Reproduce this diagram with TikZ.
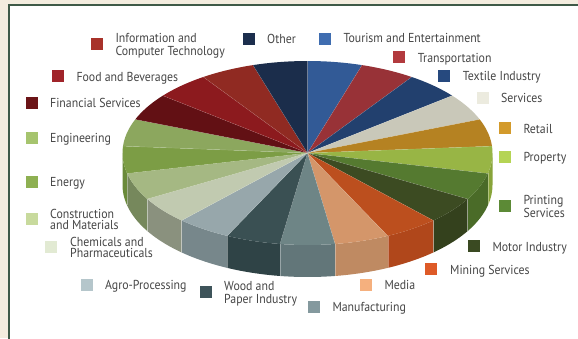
\documentclass[tikz,border=0pt]{standalone}
\usepackage{fontspec}
\setmainfont{PT Sans}[FakeStretch=0.91]
\definecolor{bgcream}{HTML}{F4EDDF}
\definecolor{framegreen}{HTML}{3F5A48}
\definecolor{textgray}{HTML}{464646}
% top faces
\definecolor{cTourism}{HTML}{325A96}
\definecolor{cTransport}{HTML}{983237}
\definecolor{cTextile}{HTML}{22406E}
\definecolor{cServices}{HTML}{C9C8B9}
\definecolor{cRetail}{HTML}{B58222}
\definecolor{cProperty}{HTML}{98B545}
\definecolor{cPrinting}{HTML}{557A30}
\definecolor{cMotor}{HTML}{3C4B22}
\definecolor{cMining}{HTML}{BC4F1E}
\definecolor{cMedia}{HTML}{D4966A}
\definecolor{cManuf}{HTML}{6E8586}
\definecolor{cWood}{HTML}{3A5053}
\definecolor{cAgro}{HTML}{97A7AB}
\definecolor{cChem}{HTML}{C1CAB0}
\definecolor{cConstr}{HTML}{A5B883}
\definecolor{cEnergy}{HTML}{7C9D45}
\definecolor{cEngin}{HTML}{8CA75E}
\definecolor{cFin}{HTML}{621014}
\definecolor{cFood}{HTML}{8C1A1E}
\definecolor{cICT}{HTML}{902A22}
\definecolor{cOther}{HTML}{1B2D4B}
% side faces
\definecolor{sProperty}{HTML}{88A43A}
\definecolor{sPrinting}{HTML}{4A6B28}
\definecolor{sMotor}{HTML}{34411D}
\definecolor{sMining}{HTML}{B0471B}
\definecolor{sMedia}{HTML}{BF8A62}
\definecolor{sManuf}{HTML}{627679}
\definecolor{sWood}{HTML}{2F4346}
\definecolor{sAgro}{HTML}{77878B}
\definecolor{sChem}{HTML}{8A917E}
\definecolor{sConstr}{HTML}{76885C}
\definecolor{sEnergy}{HTML}{6A8A3A}
% legend squares
\definecolor{lICT}{HTML}{A8322A}
\definecolor{lOther}{HTML}{1C2E4D}
\definecolor{lTourism}{HTML}{3F6DB0}
\definecolor{lTransport}{HTML}{B23A3E}
\definecolor{lTextile}{HTML}{26497E}
\definecolor{lServices}{HTML}{ECEBDF}
\definecolor{lRetail}{HTML}{D39A2B}
\definecolor{lProperty}{HTML}{B5D454}
\definecolor{lPrinting}{HTML}{5C8A36}
\definecolor{lMotor}{HTML}{3A4A22}
\definecolor{lMining}{HTML}{DE5A27}
\definecolor{lMedia}{HTML}{F5B07E}
\definecolor{lManuf}{HTML}{84999E}
\definecolor{lWood}{HTML}{3E545A}
\definecolor{lAgro}{HTML}{B5C6CB}
\definecolor{lChem}{HTML}{E2EAD3}
\definecolor{lConstr}{HTML}{C8DA9D}
\definecolor{lEnergy}{HTML}{8EB052}
\definecolor{lEngin}{HTML}{A6C46E}
\definecolor{lFin}{HTML}{6B1417}
\definecolor{lFood}{HTML}{A0242A}
\begin{document}
\begin{tikzpicture}[x=1pt,y=-1pt,
  legsq/.style={fill=#1, minimum size=12pt, inner sep=0pt, draw=none},
  leg/.style={anchor=base west, inner sep=0pt, text=textgray, align=left,
    font=\fontsize{13}{#1}\selectfont},
  leg/.default=13]
\useasboundingbox (0,0) rectangle (578,338);
\fill[bgcream] (0,0) rectangle (578,338);
\fill[white] (9,5) rectangle (578,338);
\draw[framegreen, line width=2pt] (9,340) -- (9,5) -- (580,5);
\def\cx{307.5}\def\cy{153}\def\rx{185}\def\ry{92}\def\dep{32}
% sides
\foreach \k/\c in {5/sProperty,6/sPrinting,7/sMotor,8/sMining,9/sMedia,10/sManuf,11/sWood,12/sAgro,13/sChem,14/sConstr,15/sEnergy}{
  \pgfmathsetmacro\a{max(90,\k*360/21)}
  \pgfmathsetmacro\b{min(270,(\k+1)*360/21)}
  \fill[\c] plot[domain=\a:\b, samples=12] ({\cx+\rx*sin(\x)},{\cy-\ry*cos(\x)})
    -- plot[domain=\b:\a, samples=12] ({\cx+\rx*sin(\x)},{\cy+\dep-\ry*cos(\x)}) -- cycle;
}
\foreach \k in {6,...,15}{
  \pgfmathsetmacro\a{\k*360/21}
  \draw[white, opacity=0.35, line width=0.5pt] ({\cx+\rx*sin(\a)},{\cy-\ry*cos(\a)}) -- ++(0,\dep);
}
% top faces
\foreach \k/\c in {0/cTourism,1/cTransport,2/cTextile,3/cServices,4/cRetail,5/cProperty,6/cPrinting,7/cMotor,8/cMining,9/cMedia,10/cManuf,11/cWood,12/cAgro,13/cChem,14/cConstr,15/cEnergy,16/cEngin,17/cFin,18/cFood,19/cICT,20/cOther}{
  \pgfmathsetmacro\a{\k*360/21}
  \pgfmathsetmacro\b{(\k+1)*360/21}
  \fill[\c] (\cx,\cy) -- plot[domain=\a:\b, samples=10] ({\cx+\rx*sin(\x)},{\cy-\ry*cos(\x)}) -- cycle;
}
\foreach \k in {0,...,20}{
  \pgfmathsetmacro\a{\k*360/21}
  \draw[white, opacity=0.2, line width=0.4pt] (\cx,\cy) -- ({\cx+\rx*sin(\a)},{\cy-\ry*cos(\a)});
}
% legend
\node[legsq=lICT] (sqICT) at (97,44) {};
\node[leg] (tICT) at (115.3,55.3) {Information and\\Computer Technology};
\node[legsq=lOther] (sqOther) at (249,39) {};
\node[leg] (tOther) at (267,43) {Other};
\node[legsq=lTourism] (sqTourism) at (325,39) {};
\node[leg] (tTourism) at (343.3,42.5) {Tourism and Entertainment};
\node[legsq=lTransport] (sqTransport) at (399,57) {};
\node[leg] (tTransport) at (417.7,62.5) {Transportation};
\node[legsq=lTextile] (sqTextile) at (444,76) {};
\node[leg] (tTextile) at (462.7,80.8) {Textile Industry};
\node[legsq=lServices] (sqServices) at (483,98) {};
\node[leg] (tServices) at (501,102.5) {Services};
\node[legsq=lRetail] (sqRetail) at (505,128) {};
\node[leg] (tRetail) at (523.3,133) {Retail};
\node[legsq=lProperty] (sqProperty) at (505,157) {};
\node[leg] (tProperty) at (523.3,161.8) {Property};
\node[legsq=lPrinting] (sqPrinting) at (505,206) {};
\node[leg=11.6] (tPrinting) at (523.3,217.3) {Printing\\Services};
\node[legsq=lMotor] (sqMotor) at (474,246) {};
\node[leg] (tMotor) at (492.3,251.7) {Motor Industry};
\node[legsq=lMining] (sqMining) at (431,269) {};
\node[leg] (tMining) at (450,274.7) {Mining Services};
\node[legsq=lMedia] (sqMedia) at (366,285) {};
\node[leg] (tMedia) at (384.3,289.7) {Media};
\node[legsq=lManuf] (sqManuf) at (314,307) {};
\node[leg] (tManuf) at (332.3,311.7) {Manufacturing};
\node[legsq=lWood] (sqWood) at (206,292) {};
\node[leg=12.7] (tWood) at (224,303.4) {Wood and\\Paper Industry};
\node[legsq=lAgro] (sqAgro) at (87,285) {};
\node[leg] (tAgro) at (105,289.7) {Agro-Processing};
\node[legsq=lChem] (sqChem) at (51,247) {};
\node[leg=11.7] (tChem) at (70,257.7) {Chemicals and\\Pharmaceuticals};
\node[legsq=lConstr] (sqConstr) at (32,219) {};
\node[leg=11.3] (tConstr) at (50,229.6) {Construction\\and Materials};
\node[legsq=lEnergy] (sqEnergy) at (32,182) {};
\node[leg] (tEnergy) at (50,186.3) {Energy};
\node[legsq=lEngin] (sqEngin) at (32,138) {};
\node[leg] (tEngin) at (50,142.3) {Engineering};
\node[legsq=lFin] (sqFin) at (32,103) {};
\node[leg] (tFin) at (50,107.3) {Financial Services};
\node[legsq=lFood] (sqFood) at (58,76) {};
\node[leg] (tFood) at (76.3,81.7) {Food and Beverages};
\end{tikzpicture}
\end{document}
